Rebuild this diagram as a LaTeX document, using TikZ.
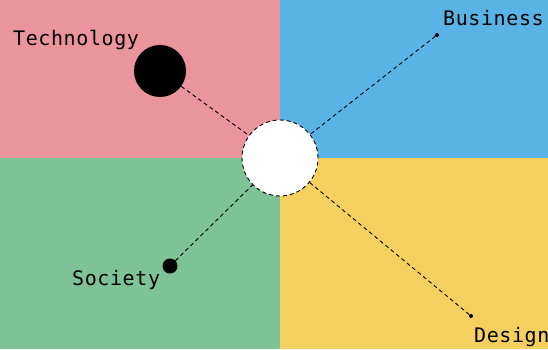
\documentclass[tikz,border=0pt]{standalone}
\usepackage{fontspec}
\newfontfamily\tagfont[LetterSpace=3]{DejaVu Sans Mono}
\usepackage{tikz}
\usetikzlibrary{positioning}
\definecolor{techpink}{HTML}{EA949C}
\definecolor{bizblue}{HTML}{5AB3E5}
\definecolor{socgreen}{HTML}{7DC396}
\definecolor{desyellow}{HTML}{F6D05E}

\begin{document}
\begin{tikzpicture}[
  x=1pt, y=-1pt,
  every node/.style={font=\tagfont\fontsize{20}{24}\selectfont},
  tag/.style={anchor=base west, inner sep=0pt},
  hub/.style={circle, fill=white, draw=black, line width=0.9pt,
              dash pattern=on 4pt off 3pt, minimum size=76pt, inner sep=0pt},
  blob/.style={circle, fill=black, inner sep=0pt},
  link/.style={draw=black, line width=0.9pt, dash pattern=on 4pt off 3pt}
]
\useasboundingbox (0,0) rectangle (548,349);
% Four quadrants
\fill[techpink]  (0,0)     rectangle (280,158);
\fill[bizblue]   (280,0)   rectangle (548,158);
\fill[socgreen]  (0,158)   rectangle (280,349);
\fill[desyellow] (280,158) rectangle (548,349);
% Centre and the four points
\node[hub] (hub) at (280,158) {};
\node[blob, minimum size=52pt] (tech) at (160,71)  {};
\node[blob, minimum size=4pt]  (biz)  at (437,35)  {};
\node[blob, minimum size=15pt] (soc)  at (170,266) {};
\node[blob, minimum size=4pt]  (des)  at (471,316) {};
% Dashed links to the centre
\foreach \src in {tech,biz,soc,des}
  \draw[link] (\src) -- (hub);
% Labels
\node[tag] (techlbl) at (13,45)  {Technology};
\node[tag] (bizlbl)  at (443,25) {Business};
\node[tag] (soclbl)  at (72,285) {Society};
\node[tag] (deslbl)  at (474,342) {Design};
\end{tikzpicture}
\end{document}
